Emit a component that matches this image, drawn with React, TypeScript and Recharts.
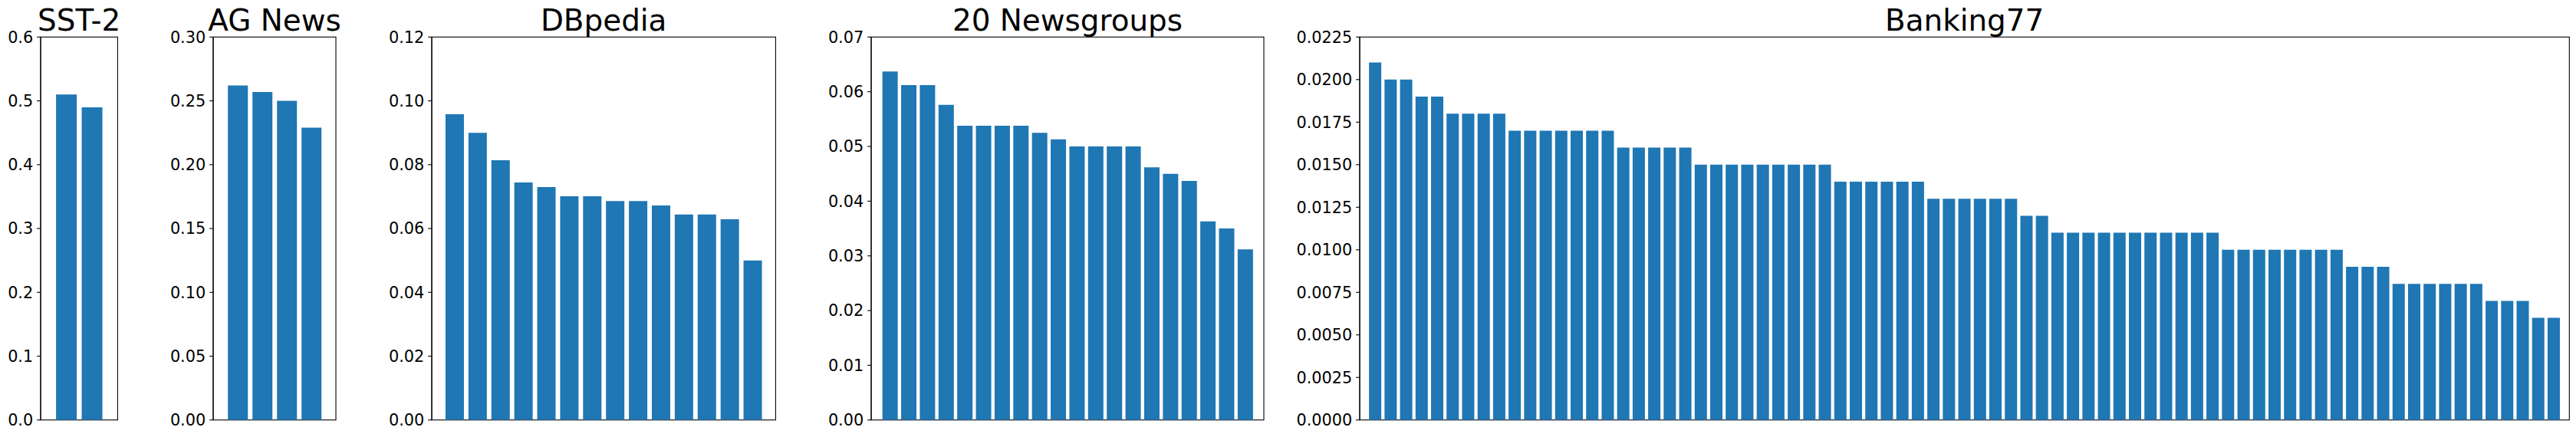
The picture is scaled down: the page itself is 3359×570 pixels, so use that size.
import React from 'react';
import * as R from 'recharts';

const { BarChart, Bar, XAxis, YAxis } = R as any;

// ---------- data ----------
const titles = ['SST-2', 'AG News', 'DBpedia', '20 Newsgroups', 'Banking77'];

const sst2Values = [0.51, 0.49];
const agNewsValues = [0.262, 0.257, 0.250, 0.229];
const dbpediaValues = [
  0.0958, 0.0900, 0.0814, 0.0744, 0.0730, 0.0701, 0.0701,
  0.0686, 0.0686, 0.0672, 0.0644, 0.0644, 0.0629, 0.0500,
];
const newsgroupsValues = [
  0.0637, 0.0612, 0.0612, 0.0576, 0.0538, 0.0538, 0.0538, 0.0538, 0.0525, 0.0513,
  0.0500, 0.0500, 0.0500, 0.0500, 0.0462, 0.0450, 0.0437, 0.0363, 0.0350, 0.0312,
];
const banking77Values = [
  0.021,
  0.020, 0.020,
  0.019, 0.019,
  0.018, 0.018, 0.018, 0.018,
  0.017, 0.017, 0.017, 0.017, 0.017, 0.017, 0.017,
  0.016, 0.016, 0.016, 0.016, 0.016,
  0.015, 0.015, 0.015, 0.015, 0.015, 0.015, 0.015, 0.015, 0.015,
  0.014, 0.014, 0.014, 0.014, 0.014, 0.014,
  0.013, 0.013, 0.013, 0.013, 0.013, 0.013,
  0.012, 0.012,
  0.011, 0.011, 0.011, 0.011, 0.011, 0.011, 0.011, 0.011, 0.011, 0.011, 0.011,
  0.010, 0.010, 0.010, 0.010, 0.010, 0.010, 0.010, 0.010,
  0.009, 0.009, 0.009,
  0.008, 0.008, 0.008, 0.008, 0.008, 0.008,
  0.007, 0.007, 0.007,
  0.006, 0.006,
];

const sst2Ticks = [0, 0.1, 0.2, 0.3, 0.4, 0.5, 0.6];
const agNewsTicks = [0, 0.05, 0.10, 0.15, 0.20, 0.25, 0.30];
const dbpediaTicks = [0, 0.02, 0.04, 0.06, 0.08, 0.10, 0.12];
const newsgroupsTicks = [0, 0.01, 0.02, 0.03, 0.04, 0.05, 0.06, 0.07];
const banking77Ticks = [0, 0.0025, 0.005, 0.0075, 0.01, 0.0125, 0.015, 0.0175, 0.02, 0.0225];

// ---------- style / layout ----------
const FONT = '"DejaVu Sans", "Liberation Sans", sans-serif';
const BAR_COLOR = '#1f77b4';
const FIG_W = 3359;
const FIG_H = 570;
const AX_TOP = 48.3;
const AX_BOTTOM = 547.8;
const Y_W = 130;
const R_M = 14;

const usePlotAreaSafe: () => any = (R as any).usePlotArea ? (R as any).usePlotArea : () => null;

function Frame({ title }: { title: string }) {
  const area = usePlotAreaSafe();
  if (!area) return null;
  return (
    <g>
      <rect
        x={area.x}
        y={area.y}
        width={area.width}
        height={area.height}
        fill="none"
        stroke="#000"
        strokeWidth={1.1}
      />
      <text
        x={area.x + area.width / 2}
        y={area.y - 8.6}
        textAnchor="middle"
        fontFamily={FONT}
        fontSize={38.9}
        fill="#000"
      >
        {title}
      </text>
    </g>
  );
}

type PanelProps = {
  title: string;
  values: number[];
  ticks: number[];
  decimals: number;
  axLeft: number;
  axRight: number;
};

function Panel({ title, values, ticks, decimals, axLeft, axRight }: PanelProps) {
  const n = values.length;
  const plotW = axRight - axLeft;
  const unit = plotW / (n + 1);
  const data = values.map((v, i) => ({ idx: String(i), value: v }));
  return (
    <div style={{ position: 'absolute', left: axLeft - Y_W, top: 0 }}>
      <BarChart
        width={plotW + Y_W + R_M}
        height={FIG_H}
        data={data}
        margin={{ top: AX_TOP, right: R_M, bottom: FIG_H - AX_BOTTOM, left: 0 }}
        barCategoryGap="10%"
        style={{ overflow: 'visible' }}
      >
        <XAxis
          dataKey="idx"
          type="category"
          hide
          padding={{ left: unit / 2, right: unit / 2 }}
        />
        <YAxis
          width={Y_W}
          type="number"
          domain={[0, ticks[ticks.length - 1]]}
          ticks={ticks}
          interval={0}
          allowDataOverflow
          tickFormatter={(v: number) => v.toFixed(decimals)}
          tick={{ fill: '#000', fontSize: 20.8, fontFamily: FONT }}
          tickLine={{ stroke: '#000', strokeWidth: 1.1 }}
          axisLine={{ stroke: '#000', strokeWidth: 1.1 }}
          tickSize={4.9}
          tickMargin={4.9}
        />
        <Bar dataKey="value" fill={BAR_COLOR} isAnimationActive={false} />
        <Frame title={title} />
      </BarChart>
    </div>
  );
}

export default function App() {
  return (
    <div
      style={{
        position: 'absolute',
        left: 0,
        top: 0,
        width: FIG_W,
        height: FIG_H,
        background: '#fff',
        overflow: 'hidden',
      }}
    >
      <Panel title={titles[0]} values={sst2Values} ticks={sst2Ticks} decimals={1} axLeft={53.3} axRight={153.7} />
      <Panel title={titles[1]} values={agNewsValues} ticks={agNewsTicks} decimals={2} axLeft={278.3} axRight={438.3} />
      <Panel title={titles[2]} values={dbpediaValues} ticks={dbpediaTicks} decimals={2} axLeft={563.1} axRight={1011.5} />
      <Panel title={titles[3]} values={newsgroupsValues} ticks={newsgroupsTicks} decimals={2} axLeft={1136.1} axRight={1648.1} />
      <Panel title={titles[4]} values={banking77Values} ticks={banking77Ticks} decimals={4} axLeft={1773.2} axRight={3350.5} />
    </div>
  );
}
